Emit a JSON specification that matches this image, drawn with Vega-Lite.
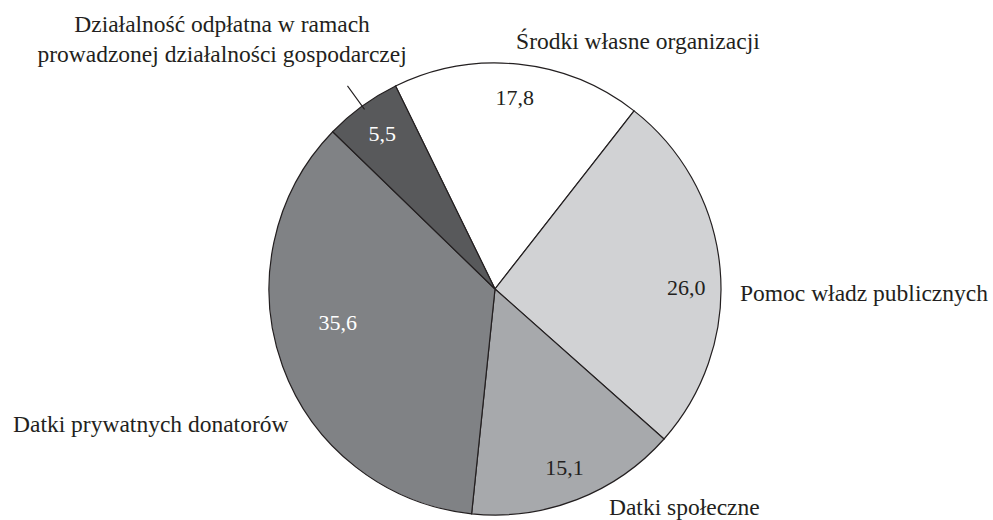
{
  "$schema": "https://vega.github.io/schema/vega-lite/v6.json",
  "autosize": {"type": "none"},
  "width": 990,
  "height": 462,
  "padding": {"left": 0, "top": 58, "right": 3, "bottom": 0},
  "background": "white",
  "config": {
    "view": {"stroke": null},
    "locale": {"number": {"decimal": ",", "thousands": " ", "grouping": [3], "currency": ["", ""]}},
    "text": {"font": "Liberation Serif"}
  },
  "data": {
    "values": [
      {"cat": "Środki własne organizacji", "value": 17.8, "ord": 1},
      {"cat": "Pomoc władz publicznych", "value": 26.0, "ord": 2},
      {"cat": "Datki społeczne", "value": 15.1, "ord": 3},
      {"cat": "Datki prywatnych donatorów", "value": 35.6, "ord": 4},
      {"cat": "Działalność odpłatna w ramach\nprowadzonej działalności gospodarczej", "value": 5.5, "ord": 5}
    ]
  },
  "encoding": {
    "theta": {"field": "value", "type": "quantitative", "stack": true, "scale": {"range": [-0.45553, 5.82766]}},
    "order": {"field": "ord", "type": "quantitative"}
  },
  "layer": [
    {
      "mark": {"type": "arc", "outerRadius": 226, "stroke": "#231f20", "strokeWidth": 1.2},
      "encoding": {
        "color": {
          "field": "cat", "type": "nominal", "legend": null,
          "scale": {
            "domain": ["Środki własne organizacji", "Pomoc władz publicznych", "Datki społeczne", "Datki prywatnych donatorów", "Działalność odpłatna w ramach\nprowadzonej działalności gospodarczej"],
            "range": ["#ffffff", "#d1d2d4", "#a7a9ac", "#808285", "#58595b"]
          }
        }
      }
    },
    {
      "mark": {"type": "arc", "outerRadius": 251, "innerRadius": 222, "padAngle": 0.6, "fill": null, "stroke": "#231f20", "strokeWidth": 1.1},
      "encoding": {
        "strokeOpacity": {"condition": {"test": "datum.ord === 5", "value": 1}, "value": 0}
      }
    },
    {
      "mark": {"type": "text", "radius": 192, "fontSize": 22, "fill": "#231f20", "baseline": "middle", "align": "center"},
      "encoding": {"text": {"condition": {"test": "datum.ord === 1 || datum.ord === 3", "field": "value", "format": ".1f"}, "value": ""}}
    },
    {
      "mark": {"type": "text", "radius": 192, "dy": 16, "fontSize": 22, "fill": "#231f20", "baseline": "middle", "align": "center"},
      "encoding": {"text": {"condition": {"test": "datum.ord === 2", "field": "value", "format": ".1f"}, "value": ""}}
    },
    {
      "mark": {"type": "text", "radius": 192, "fontSize": 22, "fill": "#ffffff", "baseline": "middle", "align": "center"},
      "encoding": {"text": {"condition": {"test": "datum.ord === 5", "field": "value", "format": ".1f"}, "value": ""}}
    },
    {
      "mark": {"type": "text", "radius": 160, "dx": -7, "dy": -21, "fontSize": 22, "fill": "#ffffff", "baseline": "middle", "align": "center"},
      "encoding": {"text": {"condition": {"test": "datum.ord === 4", "field": "value", "format": ".1f"}, "value": ""}}
    },
    {
      "mark": {"type": "text", "radius": 250, "dx": 117, "dy": 9, "fontSize": 23.5, "fill": "#231f20", "baseline": "alphabetic", "align": "center"},
      "encoding": {"text": {"condition": {"test": "datum.ord === 1", "field": "cat"}, "value": ""}}
    },
    {
      "mark": {"type": "text", "radius": 245, "dx": 1, "dy": 34, "fontSize": 23.5, "fill": "#231f20", "baseline": "alphabetic", "align": "left"},
      "encoding": {"text": {"condition": {"test": "datum.ord === 2", "field": "cat"}, "value": ""}}
    },
    {
      "mark": {"type": "text", "radius": 240, "dx": 27, "dy": 2, "fontSize": 23.5, "fill": "#231f20", "baseline": "alphabetic", "align": "left"},
      "encoding": {"text": {"condition": {"test": "datum.ord === 3", "field": "cat"}, "value": ""}}
    },
    {
      "mark": {"type": "text", "radius": 240, "dx": 19, "dy": 61, "fontSize": 23.5, "fill": "#231f20", "baseline": "alphabetic", "align": "right"},
      "encoding": {"text": {"condition": {"test": "datum.ord === 4", "field": "cat"}, "value": ""}}
    },
    {
      "mark": {"type": "text", "radius": 250, "dx": -126, "dy": -55, "fontSize": 23.5, "lineHeight": 30, "lineBreak": "\n", "fill": "#231f20", "baseline": "alphabetic", "align": "center"},
      "encoding": {"text": {"condition": {"test": "datum.ord === 5", "field": "cat"}, "value": ""}}
    }
  ]
}
